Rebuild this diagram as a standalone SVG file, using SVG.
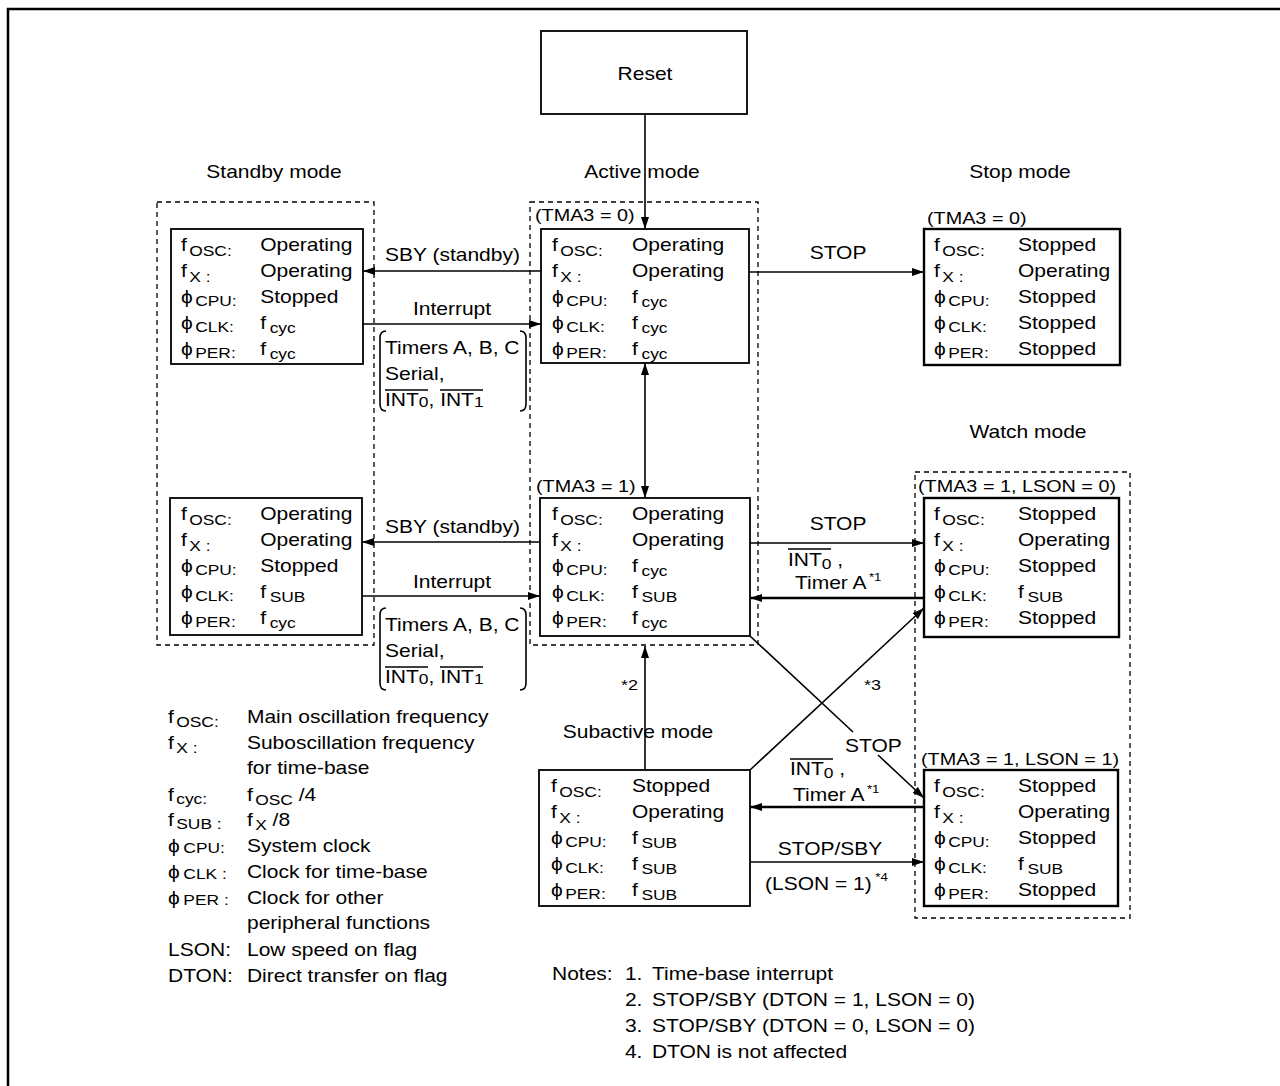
<svg xmlns="http://www.w3.org/2000/svg" width="1280" height="1086" viewBox="0 0 1280 1086">
<style>
.t{font-family:"Liberation Sans",Arial,Helvetica,sans-serif;font-size:17.5px;fill:#000}
.s{font-size:14.5px}
.sup{font-size:11px}
.tl{font-family:"Liberation Sans",Arial,Helvetica,sans-serif;font-size:16.5px;fill:#000}
.m{text-anchor:middle}
.box{fill:#fff;stroke:#000;stroke-width:1.8}
.bx2{fill:#fff;stroke:#000;stroke-width:2.4}
.dash{fill:none;stroke:#000;stroke-width:1.3;stroke-dasharray:5 4}
.c{fill:none;stroke:#000;stroke-width:1.6}
.cb{fill:none;stroke:#000;stroke-width:2.6}
.ol{stroke:#000;stroke-width:1.3}
</style>
<defs>
<marker id="ah" viewBox="0 0 12 8" refX="12" refY="4" markerWidth="12" markerHeight="8" markerUnits="userSpaceOnUse" orient="auto-start-reverse"><path d="M0,0 L12,4 L0,8 z" fill="#000"/></marker>
</defs>
<rect width="1280" height="1086" fill="#fff"/>
<path d="M8,1086 V9 H1280" fill="none" stroke="#000" stroke-width="2.5"/>

<!-- dashed mode regions -->
<g id="regions">
<rect class="dash" x="157" y="202" width="217" height="443"/>
<rect class="dash" x="530" y="202" width="228" height="443"/>
<rect class="dash" x="915" y="472" width="215" height="446"/>
</g>

<!-- connectors -->
<g id="connectors">
<path class="c" d="M645,114 V229" marker-end="url(#ah)"/>
<path class="c" d="M645,363 V498" marker-start="url(#ah)" marker-end="url(#ah)"/>
<path class="c" d="M541,271 H363" marker-end="url(#ah)"/>
<path class="c" d="M363,324 H541" marker-end="url(#ah)"/>
<path class="c" d="M749,272 H924" marker-end="url(#ah)"/>
<path class="c" d="M540,542 H362" marker-end="url(#ah)"/>
<path class="c" d="M362,596 H540" marker-end="url(#ah)"/>
<path class="c" d="M750,543 H924" marker-end="url(#ah)"/>
<path class="cb" d="M924,598 H750" marker-end="url(#ah)"/>
<path class="c" d="M750,636 L853,732"/>
<path class="c" d="M878,755 L924,798" marker-end="url(#ah)"/>
<path class="c" d="M750,770 L924,608" marker-end="url(#ah)"/>
<path class="cb" d="M924,807 H750" marker-end="url(#ah)"/>
<path class="c" d="M750,862 H924" marker-end="url(#ah)"/>
<path class="c" d="M645,770 V646" marker-end="url(#ah)"/>
<path class="c" d="M386,331 Q380,331 380,338 V404 Q380,411 386,411"/>
<path class="c" d="M520,331 Q526,331 526,338 V404 Q526,411 520,411"/>
<path class="c" d="M386,608 Q380,608 380,615 V683 Q380,690 386,690"/>
<path class="c" d="M520,608 Q526,608 526,615 V683 Q526,690 520,690"/>
<line class="ol" x1="385" y1="390" x2="428" y2="390"/>
<line class="ol" x1="440" y1="390" x2="483" y2="390"/>
<line class="ol" x1="385" y1="667" x2="428" y2="667"/>
<line class="ol" x1="440" y1="667" x2="483" y2="667"/>
<line class="ol" x1="788" y1="549" x2="831" y2="549"/>
<line class="ol" x1="790" y1="759" x2="833" y2="759"/>
</g>

<!-- connector labels -->
<g id="connector-labels">
<text class="t" transform="translate(385 261) scale(1.2 1)">SBY (standby)</text>
<text class="t m" transform="translate(452 315) scale(1.2 1)">Interrupt</text>
<text class="t" transform="translate(385 354) scale(1.2 1)">Timers A, B, C</text>
<text class="t" transform="translate(385 380) scale(1.2 1)">Serial,</text>
<text class="t" transform="translate(385 406) scale(1.2 1)">INT<tspan class="s" dy="1">0</tspan><tspan dy="-1">, INT</tspan><tspan class="s" dy="1">1</tspan></text>
<text class="t" transform="translate(385 533) scale(1.2 1)">SBY (standby)</text>
<text class="t m" transform="translate(452 588) scale(1.2 1)">Interrupt</text>
<text class="t" transform="translate(385 631) scale(1.2 1)">Timers A, B, C</text>
<text class="t" transform="translate(385 657) scale(1.2 1)">Serial,</text>
<text class="t" transform="translate(385 683) scale(1.2 1)">INT<tspan class="s" dy="1">0</tspan><tspan dy="-1">, INT</tspan><tspan class="s" dy="1">1</tspan></text>
<text class="t m" transform="translate(838 259) scale(1.2 1)">STOP</text>
<text class="t m" transform="translate(838 530) scale(1.2 1)">STOP</text>
<text class="t" transform="translate(788 566) scale(1.2 1)">INT<tspan class="s" dy="3">0</tspan><tspan dy="-3"> ,</tspan></text>
<text class="t" transform="translate(795 589) scale(1.2 1)">Timer A<tspan class="sup" dx="2" dy="-8">*1</tspan></text>
<text class="t" transform="translate(864 690) scale(1.2 1)" style="font-size:15px">*3</text>
<text class="t" transform="translate(621 690) scale(1.2 1)" style="font-size:15px">*2</text>
<text class="t" transform="translate(845 752) scale(1.2 1)">STOP</text>
<text class="t" transform="translate(790 775) scale(1.2 1)">INT<tspan class="s" dy="3">0</tspan><tspan dy="-3"> ,</tspan></text>
<text class="t" transform="translate(793 801) scale(1.2 1)">Timer A<tspan class="sup" dx="2" dy="-8">*1</tspan></text>
<text class="t m" transform="translate(830 855) scale(1.2 1)">STOP/SBY</text>
<text class="t" transform="translate(765 890) scale(1.2 1)">(LSON = 1)<tspan class="sup" dx="3" dy="-9">*4</tspan></text>
</g>

<!-- mode titles -->
<g id="mode-titles">
<text class="t m" transform="translate(274 178) scale(1.2 1)">Standby mode</text>
<text class="t m" transform="translate(642 178) scale(1.2 1)">Active mode</text>
<text class="t m" transform="translate(1020 178) scale(1.2 1)">Stop mode</text>
<text class="t m" transform="translate(1028 438) scale(1.2 1)">Watch mode</text>
<text class="t m" transform="translate(638 738) scale(1.2 1)">Subactive mode</text>
<text class="tl" transform="translate(535 221) scale(1.2 1)">(TMA3 = 0)</text>
<text class="tl" transform="translate(927 224) scale(1.2 1)">(TMA3 = 0)</text>
<text class="tl" transform="translate(536 492) scale(1.2 1)">(TMA3 = 1)</text>
<text class="tl" transform="translate(918 492) scale(1.2 1)">(TMA3 = 1, LSON = 0)</text>
<text class="tl" transform="translate(921 765) scale(1.2 1)">(TMA3 = 1, LSON = 1)</text>
</g>

<g id="reset">
<rect class="box" x="541" y="31" width="206" height="83"/>
<text class="t m" transform="translate(645 80) scale(1.2 1)">Reset</text>
</g>

<g id="standby-active">
<rect class="box" x="171" y="229" width="192" height="135"/>
<g class="t" transform="translate(181 0) scale(1.2 1)">
<text x="0" y="251">f<tspan class="s" dx="2" dy="5">OSC:</tspan></text>
<text x="0" y="277">f<tspan class="s" dx="2" dy="5">X :</tspan></text>
<text x="0" y="303">ϕ<tspan class="s" dx="2" dy="3">CPU:</tspan></text>
<text x="0" y="329">ϕ<tspan class="s" dx="2" dy="3">CLK:</tspan></text>
<text x="0" y="355">ϕ<tspan class="s" dx="2" dy="3">PER:</tspan></text>
<text x="66" y="251">Operating</text>
<text x="66" y="277">Operating</text>
<text x="66" y="303">Stopped</text>
<text x="66" y="329">f<tspan class="s" dx="3" dy="4">cyc</tspan></text>
<text x="66" y="355">f<tspan class="s" dx="3" dy="4">cyc</tspan></text>
</g>
</g>

<g id="standby-subclock">
<rect class="box" x="170" y="498" width="192" height="137"/>
<g class="t" transform="translate(181 0) scale(1.2 1)">
<text x="0" y="520">f<tspan class="s" dx="2" dy="5">OSC:</tspan></text>
<text x="0" y="546">f<tspan class="s" dx="2" dy="5">X :</tspan></text>
<text x="0" y="572">ϕ<tspan class="s" dx="2" dy="3">CPU:</tspan></text>
<text x="0" y="598">ϕ<tspan class="s" dx="2" dy="3">CLK:</tspan></text>
<text x="0" y="624">ϕ<tspan class="s" dx="2" dy="3">PER:</tspan></text>
<text x="66" y="520">Operating</text>
<text x="66" y="546">Operating</text>
<text x="66" y="572">Stopped</text>
<text x="66" y="598">f<tspan class="s" dx="3" dy="4">SUB</tspan></text>
<text x="66" y="624">f<tspan class="s" dx="3" dy="4">cyc</tspan></text>
</g>
</g>

<g id="active-tma0">
<rect class="box" x="541" y="229" width="208" height="134"/>
<g class="t" transform="translate(552 0) scale(1.2 1)">
<text x="0" y="251">f<tspan class="s" dx="2" dy="5">OSC:</tspan></text>
<text x="0" y="277">f<tspan class="s" dx="2" dy="5">X :</tspan></text>
<text x="0" y="303">ϕ<tspan class="s" dx="2" dy="3">CPU:</tspan></text>
<text x="0" y="329">ϕ<tspan class="s" dx="2" dy="3">CLK:</tspan></text>
<text x="0" y="355">ϕ<tspan class="s" dx="2" dy="3">PER:</tspan></text>
<text x="66.7" y="251">Operating</text>
<text x="66.7" y="277">Operating</text>
<text x="66.7" y="303">f<tspan class="s" dx="3" dy="4">cyc</tspan></text>
<text x="66.7" y="329">f<tspan class="s" dx="3" dy="4">cyc</tspan></text>
<text x="66.7" y="355">f<tspan class="s" dx="3" dy="4">cyc</tspan></text>
</g>
</g>

<g id="active-tma1">
<rect class="box" x="540" y="498" width="210" height="138"/>
<g class="t" transform="translate(552 0) scale(1.2 1)">
<text x="0" y="520">f<tspan class="s" dx="2" dy="5">OSC:</tspan></text>
<text x="0" y="546">f<tspan class="s" dx="2" dy="5">X :</tspan></text>
<text x="0" y="572">ϕ<tspan class="s" dx="2" dy="3">CPU:</tspan></text>
<text x="0" y="598">ϕ<tspan class="s" dx="2" dy="3">CLK:</tspan></text>
<text x="0" y="624">ϕ<tspan class="s" dx="2" dy="3">PER:</tspan></text>
<text x="66.7" y="520">Operating</text>
<text x="66.7" y="546">Operating</text>
<text x="66.7" y="572">f<tspan class="s" dx="3" dy="4">cyc</tspan></text>
<text x="66.7" y="598">f<tspan class="s" dx="3" dy="4">SUB</tspan></text>
<text x="66.7" y="624">f<tspan class="s" dx="3" dy="4">cyc</tspan></text>
</g>
</g>

<g id="stop-mode">
<rect class="bx2" x="924" y="229" width="196" height="136"/>
<g class="t" transform="translate(934 0) scale(1.2 1)">
<text x="0" y="251">f<tspan class="s" dx="2" dy="5">OSC:</tspan></text>
<text x="0" y="277">f<tspan class="s" dx="2" dy="5">X :</tspan></text>
<text x="0" y="303">ϕ<tspan class="s" dx="2" dy="3">CPU:</tspan></text>
<text x="0" y="329">ϕ<tspan class="s" dx="2" dy="3">CLK:</tspan></text>
<text x="0" y="355">ϕ<tspan class="s" dx="2" dy="3">PER:</tspan></text>
<text x="70" y="251">Stopped</text>
<text x="70" y="277">Operating</text>
<text x="70" y="303">Stopped</text>
<text x="70" y="329">Stopped</text>
<text x="70" y="355">Stopped</text>
</g>
</g>

<g id="watch-lson0">
<rect class="bx2" x="924" y="498" width="195" height="139"/>
<g class="t" transform="translate(934 0) scale(1.2 1)">
<text x="0" y="520">f<tspan class="s" dx="2" dy="5">OSC:</tspan></text>
<text x="0" y="546">f<tspan class="s" dx="2" dy="5">X :</tspan></text>
<text x="0" y="572">ϕ<tspan class="s" dx="2" dy="3">CPU:</tspan></text>
<text x="0" y="598">ϕ<tspan class="s" dx="2" dy="3">CLK:</tspan></text>
<text x="0" y="624">ϕ<tspan class="s" dx="2" dy="3">PER:</tspan></text>
<text x="70" y="520">Stopped</text>
<text x="70" y="546">Operating</text>
<text x="70" y="572">Stopped</text>
<text x="70" y="598">f<tspan class="s" dx="3" dy="4">SUB</tspan></text>
<text x="70" y="624">Stopped</text>
</g>
</g>

<g id="watch-lson1">
<rect class="bx2" x="924" y="770" width="194" height="136"/>
<g class="t" transform="translate(934 0) scale(1.2 1)">
<text x="0" y="792">f<tspan class="s" dx="2" dy="5">OSC:</tspan></text>
<text x="0" y="818">f<tspan class="s" dx="2" dy="5">X :</tspan></text>
<text x="0" y="844">ϕ<tspan class="s" dx="2" dy="3">CPU:</tspan></text>
<text x="0" y="870">ϕ<tspan class="s" dx="2" dy="3">CLK:</tspan></text>
<text x="0" y="896">ϕ<tspan class="s" dx="2" dy="3">PER:</tspan></text>
<text x="70" y="792">Stopped</text>
<text x="70" y="818">Operating</text>
<text x="70" y="844">Stopped</text>
<text x="70" y="870">f<tspan class="s" dx="3" dy="4">SUB</tspan></text>
<text x="70" y="896">Stopped</text>
</g>
</g>

<g id="subactive-mode">
<rect class="box" x="539" y="770" width="211" height="136"/>
<g class="t" transform="translate(551 0) scale(1.2 1)">
<text x="0" y="792">f<tspan class="s" dx="2" dy="5">OSC:</tspan></text>
<text x="0" y="818">f<tspan class="s" dx="2" dy="5">X :</tspan></text>
<text x="0" y="844">ϕ<tspan class="s" dx="2" dy="3">CPU:</tspan></text>
<text x="0" y="870">ϕ<tspan class="s" dx="2" dy="3">CLK:</tspan></text>
<text x="0" y="896">ϕ<tspan class="s" dx="2" dy="3">PER:</tspan></text>
<text x="67.5" y="792">Stopped</text>
<text x="67.5" y="818">Operating</text>
<text x="67.5" y="844">f<tspan class="s" dx="3" dy="4">SUB</tspan></text>
<text x="67.5" y="870">f<tspan class="s" dx="3" dy="4">SUB</tspan></text>
<text x="67.5" y="896">f<tspan class="s" dx="3" dy="4">SUB</tspan></text>
</g>
</g>

<g id="legend" class="t" transform="scale(1.2 1)">
<text x="140" y="723">f<tspan class="s" dx="2" dy="4">OSC:</tspan></text>
<text x="205.8" y="723">Main oscillation frequency</text>
<text x="140" y="749">f<tspan class="s" dx="2" dy="4">X :</tspan></text>
<text x="205.8" y="749">Suboscillation frequency</text>
<text x="205.8" y="774">for time-base</text>
<text x="140" y="801">f<tspan class="s" dx="2" dy="3">cyc:</tspan></text>
<text x="205.8" y="801">f<tspan class="s" dx="2" dy="4">OSC</tspan><tspan dy="-4"> /4</tspan></text>
<text x="140" y="826">f<tspan class="s" dx="2" dy="3">SUB :</tspan></text>
<text x="205.8" y="826">f<tspan class="s" dx="2" dy="4">X</tspan><tspan dy="-4"> /8</tspan></text>
<text x="140" y="852">ϕ<tspan class="s" dx="3" dy="1">CPU:</tspan></text>
<text x="205.8" y="852">System clock</text>
<text x="140" y="878">ϕ<tspan class="s" dx="3" dy="1">CLK :</tspan></text>
<text x="205.8" y="878">Clock for time-base</text>
<text x="140" y="904">ϕ<tspan class="s" dx="3" dy="1">PER :</tspan></text>
<text x="205.8" y="904">Clock for other</text>
<text x="205.8" y="929">peripheral functions</text>
<text x="140" y="956">LSON:</text>
<text x="205.8" y="956">Low speed on flag</text>
<text x="140" y="982">DTON:</text>
<text x="205.8" y="982">Direct transfer on flag</text>
</g>

<g id="notes" class="t" transform="scale(1.2 1)">
<text x="460" y="980">Notes:</text>
<text x="520.8" y="980">1.</text>
<text x="543.3" y="980">Time-base interrupt</text>
<text x="520.8" y="1006">2.</text>
<text x="543.3" y="1006">STOP/SBY (DTON = 1, LSON = 0)</text>
<text x="520.8" y="1032">3.</text>
<text x="543.3" y="1032">STOP/SBY (DTON = 0, LSON = 0)</text>
<text x="520.8" y="1058">4.</text>
<text x="543.3" y="1058">DTON is not affected</text>
</g>
</svg>
